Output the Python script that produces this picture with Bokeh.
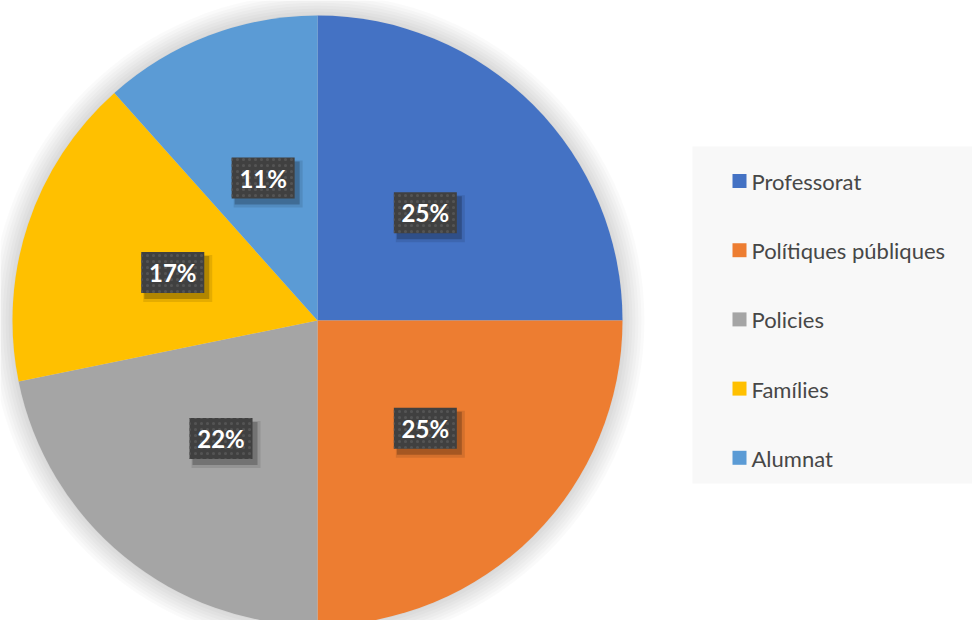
import math
from bokeh.plotting import figure
from bokeh.models import Range1d, ColumnDataSource
from bokeh.core.properties import value
from bokeh.embed import file_html
from bokeh.resources import INLINE

# ---- data ----
categories = ["Professorat", "Polítiques públiques", "Policies", "Famílies", "Alumnat"]
shares = [25.0, 25.0, 21.8, 16.6, 11.6]
pct_labels = ["25%", "25%", "22%", "17%", "11%"]
colors = ["#4472C4", "#ED7D31", "#A5A5A5", "#FFC000", "#5B9BD5"]

# ---- layout (in pixel-like data units; y measured up from page bottom) ----
W, H = 972, 620
cx, cy_ref, R = 317, 320, 305
cy = H - cy_ref

p = figure(width=W, height=H, x_range=Range1d(0, W), y_range=Range1d(0, H),
           output_backend="svg", toolbar_location=None, min_border=0,
           outline_line_color=None, background_fill_color="white")
p.axis.visible = False
p.grid.visible = False

# soft glow around pie
for k in range(22, 0, -3):
    p.circle(x=[cx], y=[cy], radius=R + k, fill_color="black", fill_alpha=0.02, line_color=None)

# wedges
total = sum(shares)
starts, ends, mids = [], [], []
a = 90.0
for s in shares:
    span = s / total * 360.0
    starts.append(math.radians(a))
    ends.append(math.radians(a - span))
    mids.append(math.radians(a - span / 2))
    a -= span

src = ColumnDataSource(dict(start=starts, end=ends, color=colors, name=categories))
p.wedge(x=cx, y=cy, radius=R, start_angle="start", end_angle="end", direction="clock",
        fill_color="color", line_color=None, source=src)

# data labels
lx = [cx + 0.5 * R * math.cos(m) for m in mids]
ly = [cy + 0.5 * R * math.sin(m) for m in mids]
bw, bh = 63, 41
p.rect(x=[x + 5 for x in lx], y=[y - 6 for y in ly], width=bw + 6, height=bh + 6,
       fill_color="black", fill_alpha=0.10, line_color=None)
p.rect(x=[x + 4 for x in lx], y=[y - 5 for y in ly], width=bw + 2, height=bh + 2,
       fill_color="black", fill_alpha=0.22, line_color=None)
p.rect(x=lx, y=ly, width=bw, height=bh, fill_color="#404040", line_color=None,
       hatch_pattern="dot", hatch_color="#545454", hatch_scale=6, hatch_weight=1.5)
p.text(x=lx, y=ly, text=pct_labels, text_color="white", text_font=value("Lato"),
       text_font_style="bold", text_font_size="24px", text_align="center",
       text_baseline="middle")

# legend
p.quad(left=[692], right=[972], top=[H - 146], bottom=[H - 483],
       fill_color="#f8f8f8", line_color=None)
row_y = [H - (181 + 69.2 * i) for i in range(len(categories))]
p.rect(x=[739] * len(categories), y=[y + 0.5 for y in row_y], width=14, height=14,
       fill_color=colors, line_color=None)
p.text(x=[751] * len(categories), y=row_y, text=categories, text_color="#474747",
       text_font=value("Lato"), text_font_size="22px", text_align="left",
       text_baseline="middle")

open("out.html", "w").write(file_html(p, INLINE))
